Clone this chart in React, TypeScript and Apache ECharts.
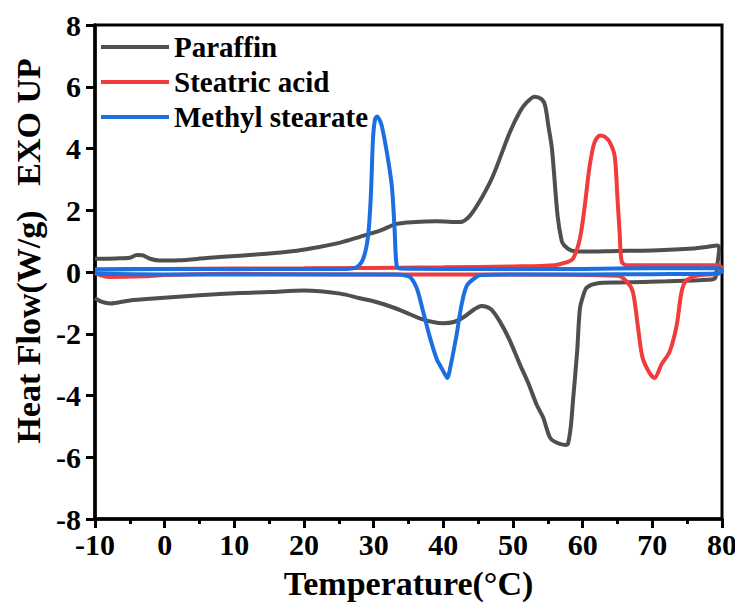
import React, { useEffect, useRef } from "react";
import * as echarts from "echarts";

const xTicks = [-10, 0, 10, 20, 30, 40, 50, 60, 70, 80];
const yTicks = [-8, -6, -4, -2, 0, 2, 4, 6, 8];

const seriesNames = ["Paraffin", "Steatric acid", "Methyl stearate"];

// Paraffin: cooling (exo, upper) then heating (endo, lower) branch
const paraffin: [number, number][] = [
  [-10, 0.43], [-7, 0.44], [-5, 0.46], [-4, 0.55], [-3.2, 0.54], [-2, 0.42], [-0.7, 0.37],
  [2, 0.38], [6, 0.45], [10.8, 0.53], [15, 0.6], [19, 0.69], [22, 0.8], [25.2, 0.95],
  [28, 1.14], [31, 1.35], [33.3, 1.56], [36, 1.62], [39, 1.64], [42.4, 1.62], [43.8, 1.82],
  [45.5, 2.4], [47.1, 3.1], [49.5, 4.5], [51, 5.2], [52, 5.5], [53.1, 5.68], [54.1, 5.6],
  [54.6, 5.4], [55.1, 4.7], [55.6, 3.97], [56.4, 1.82], [57, 1.0], [57.4, 0.85], [58.3, 0.7],
  [59.6, 0.66], [65, 0.68], [70, 0.7], [75.8, 0.76], [78, 0.82], [79.3, 0.86], [79.6, 0.8],
  [79.3, 0.2], [79, -0.2],
  [78, -0.25], [72, -0.3], [65.3, -0.34], [62, -0.37], [60.6, -0.5], [60.1, -0.75],
  [59.6, -1.2], [59.2, -2.6], [58.6, -4.2], [58.3, -5.0], [57.9, -5.55], [57.5, -5.6],
  [56, -5.5], [55.3, -5.36], [54.3, -4.7], [53.4, -4.3], [52.2, -3.6], [51, -3.0],
  [49.5, -2.2], [48.1, -1.6], [46.8, -1.2], [45.5, -1.1], [44.5, -1.2], [43, -1.45],
  [41.5, -1.62], [40, -1.66], [38.5, -1.62], [36.6, -1.5], [34.5, -1.3], [32.8, -1.15],
  [30.5, -0.98], [28, -0.85], [25.2, -0.7], [20, -0.6], [15, -0.65], [10.8, -0.68],
  [5, -0.75], [-1.1, -0.85], [-5, -0.92], [-7.8, -1.02], [-9, -0.97], [-10, -0.85],
];

const stearic: [number, number][] = [
  [-10, 0.08], [0, 0.1], [20, 0.12], [40, 0.15], [50, 0.18], [56, 0.22], [57.5, 0.3],
  [58.6, 0.43], [59.6, 1.08], [60.3, 2.14], [61, 3.43], [61.7, 4.2], [62.5, 4.42],
  [63.2, 4.38], [63.9, 4.2], [64.6, 3.75], [65, 2.37], [65.3, 1.3], [65.6, 0.34],
  [66.3, 0.22], [70, 0.22], [79.5, 0.22], [80, 0.1],
  [79.5, -0.05], [76.8, -0.1], [74.9, -0.27], [74.2, -0.64], [73.5, -1.72], [72.5, -2.57],
  [71.3, -3.0], [70.3, -3.43], [69.6, -3.27], [68.6, -2.78], [67.9, -1.72], [67.2, -0.64],
  [66.3, -0.3], [65, -0.12], [50, -0.08], [30, -0.08], [10, -0.06], [0, -0.1], [-3, -0.14],
  [-8, -0.16], [-9.3, -0.1], [-10, -0.02],
];

const methyl: [number, number][] = [
  [-10, 0.08], [0, 0.1], [10, 0.1], [20, 0.1], [26, 0.1], [27.5, 0.15], [28.5, 0.43],
  [29.2, 1.17], [29.6, 2.5], [29.9, 4.3], [30.2, 4.95], [30.5, 5.04], [30.9, 4.9],
  [31.2, 4.7], [31.9, 3.87], [32.6, 2.8], [33, 1.4], [33.3, 0.2], [33.8, 0.11], [40, 0.1],
  [50, 0.1], [60, 0.1], [70, 0.12], [79.5, 0.12], [80, 0.05],
  [79.5, -0.05], [70, -0.07], [60, -0.08], [50, -0.08], [45.5, -0.1], [44.8, -0.15],
  [43.4, -0.43], [42.6, -1.08], [41.9, -2.04], [40.9, -3.2], [40.6, -3.43], [40.2, -3.3],
  [39.6, -3.05], [39.1, -2.85], [38.1, -2.14], [37.1, -1.28], [36.2, -0.53], [35.4, -0.2],
  [34.8, -0.12], [33, -0.08], [20, -0.08], [0, -0.08], [-10, -0.06],
];

const colors = ["#4f4f4f", "#f03c3c", "#1c6fe0"];
const FONT = '"Times New Roman", "Liberation Serif", serif';

export default function App() {
  const ref = useRef<HTMLDivElement>(null);
  useEffect(() => {
    if (!ref.current) return;
    const chart = echarts.init(ref.current, undefined, { renderer: "svg" });
    const datasets = [paraffin, stearic, methyl];
    chart.setOption({
      animation: false,
      backgroundColor: "#fff",
      grid: {
        left: 95, right: 21, top: 25, bottom: 83,
        show: true, borderColor: "#000", borderWidth: 3,
      },
      legend: {
        orient: "vertical",
        left: 101,
        top: 32,
        itemWidth: 68,
        itemHeight: 4,
        itemGap: 5,
        itemTextGap: 6,
        padding: 0,
        icon: "rect",
        data: seriesNames,
        textStyle: {
          fontFamily: FONT, fontWeight: "bold", fontSize: 29, color: "#000",
          lineHeight: 30,
        },
      },
      xAxis: {
        type: "value",
        min: xTicks[0],
        max: xTicks[xTicks.length - 1],
        interval: 10,
        name: "Temperature(°C)",
        nameLocation: "middle",
        nameGap: 47,
        nameTextStyle: { fontFamily: FONT, fontWeight: "bold", fontSize: 34, color: "#000" },
        axisLine: { onZero: false, lineStyle: { color: "#000", width: 3.5 } },
        axisTick: { show: true, inside: false, length: 9, lineStyle: { color: "#000", width: 3 } },
        minorTick: { show: true, splitNumber: 2, length: 5, lineStyle: { color: "#000", width: 3 } },
        splitLine: { show: false },
        axisLabel: {
          fontFamily: FONT, fontWeight: "bold", fontSize: 30, color: "#000", margin: 10,
        },
      },
      yAxis: {
        type: "value",
        min: yTicks[0],
        max: yTicks[yTicks.length - 1],
        interval: 2,
        axisLine: { onZero: false, lineStyle: { color: "#000", width: 3.5 } },
        axisTick: { show: true, inside: false, length: 9, lineStyle: { color: "#000", width: 3 } },
        splitLine: { show: false },
        axisLabel: {
          fontFamily: FONT, fontWeight: "bold", fontSize: 30, color: "#000", margin: 14,
        },
      },
      graphic: [
        {
          type: "text", x: 28, y: 327, rotation: Math.PI / 2,
          style: {
            text: "Heat Flow(W/g)", fontFamily: FONT, fontWeight: "bold", fontSize: 34,
            fill: "#000", textAlign: "center", textVerticalAlign: "middle",
          },
        },
        {
          type: "text", x: 28, y: 122, rotation: Math.PI / 2,
          style: {
            text: "EXO UP", fontFamily: FONT, fontWeight: "bold", fontSize: 34,
            fill: "#000", textAlign: "center", textVerticalAlign: "middle",
          },
        },
      ],
      series: seriesNames.map((name, i) => ({
        name,
        type: "line",
        data: datasets[i],
        showSymbol: false,
        symbol: "none",
        smooth: 0.3,
        color: colors[i],
        lineStyle: { color: colors[i], width: 4 },
        z: 2 + i,
      })),
    });
    return () => chart.dispose();
  }, []);
  return <div ref={ref} style={{ width: 743, height: 605, marginLeft: -8, marginTop: -8 }} />;
}
